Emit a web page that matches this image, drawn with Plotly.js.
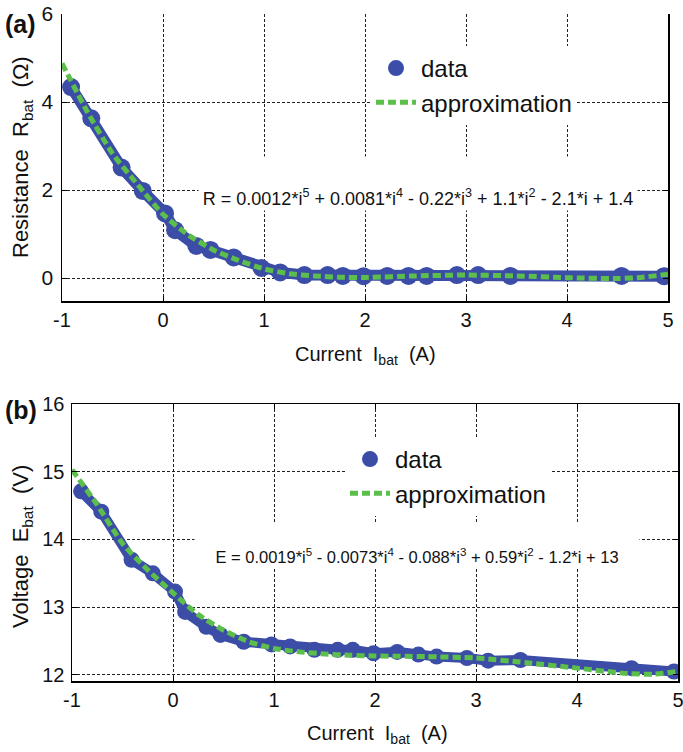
<!DOCTYPE html>
<html>
<head>
<meta charset="utf-8">
<script src="https://cdn.plot.ly/plotly-3.0.1.min.js"></script>
<style>html,body{margin:0;padding:0;background:#fff;}#chart{width:683px;height:752px;}</style>
</head>
<body>
<div id="chart"></div>
<script>
// ---- data ----
const current = [-0.91, -0.71, -0.41, -0.2, 0.02, 0.12, 0.33, 0.47, 0.70, 0.975, 1.16, 1.40, 1.63, 1.78, 1.985, 2.22, 2.43, 2.61, 2.91, 3.12, 3.44, 4.54, 4.96];
const resistance = [4.34, 3.63, 2.51, 1.98, 1.47, 1.09, 0.73, 0.64, 0.47, 0.23, 0.13, 0.07, 0.07, 0.05, 0.045, 0.05, 0.05, 0.05, 0.07, 0.07, 0.05, 0.05, 0.045];
const voltage = [14.71, 14.41, 13.70, 13.50, 13.23, 12.93, 12.71, 12.59, 12.49, 12.45, 12.42, 12.37, 12.37, 12.37, 12.32, 12.34, 12.30, 12.27, 12.25, 12.21, 12.22, 12.10, 12.05];

const approxCurrent = [-1, -0.75, -0.5, -0.25, 0, 0.25, 0.5, 0.75, 1, 1.25, 1.5, 1.75, 2, 2.5, 3, 3.5, 4, 4.5, 4.75, 5];
const approxR = [4.88, 3.78, 2.83, 2.12, 1.45, 0.98, 0.64, 0.40, 0.21, 0.10, 0.05, 0.02, 0.015, 0.05, 0.07, 0.05, 0.01, -0.01, 0.02, 0.09];
const approxE = [15.03, 14.51, 13.94, 13.55, 13.21, 12.89, 12.66, 12.49, 12.39, 12.34, 12.31, 12.29, 12.28, 12.27, 12.25, 12.18, 12.10, 12.02, 12.01, 12.05];

const xTicks = [-1, 0, 1, 2, 3, 4, 5];
const xTickText = ['-1', '0', '1', '2', '3', '4', '5'];
const rTicks = [0, 2, 4, 6];
const eTicks = [12, 13, 14, 15, 16];

const eqR = 'R = 0.0012*i<sup>5</sup> + 0.0081*i<sup>4</sup> - 0.22*i<sup>3</sup> + 1.1*i<sup>2</sup> - 2.1*i + 1.4';
const eqE = 'E = 0.0019*i<sup>5</sup> - 0.0073*i<sup>4</sup> - 0.088*i<sup>3</sup> + 0.59*i<sup>2</sup> - 1.2*i + 13';

// ---- styling ----
const W = 683, H = 752;
const BLUE = '#3B4DA6', GREEN = '#5CBF4B';
const px = v => v / W, py = v => 1 - v / H;

const traces = [
  {x: current, y: resistance, xaxis: 'x', yaxis: 'y', mode: 'lines', line: {color: BLUE, width: 11}, showlegend: false, hoverinfo: 'skip'},
  {x: current, y: resistance, xaxis: 'x', yaxis: 'y', mode: 'markers', name: 'data', marker: {color: BLUE, size: 18}, legend: 'legend'},
  {x: approxCurrent, y: approxR, xaxis: 'x', yaxis: 'y', mode: 'lines', name: 'approximation', line: {color: GREEN, width: 5, dash: '8px,4px', shape: 'spline', smoothing: 0.6}, legend: 'legend'},
  {x: current, y: voltage, xaxis: 'x2', yaxis: 'y2', mode: 'lines', line: {color: BLUE, width: 10}, showlegend: false, hoverinfo: 'skip'},
  {x: current, y: voltage, xaxis: 'x2', yaxis: 'y2', mode: 'markers', name: 'data', marker: {color: BLUE, size: 16}, legend: 'legend2'},
  {x: approxCurrent, y: approxE, xaxis: 'x2', yaxis: 'y2', mode: 'lines', name: 'approximation', line: {color: GREEN, width: 5, dash: '8px,4px', shape: 'spline', smoothing: 0.6}, legend: 'legend2'}
];

const tickFont = {family: 'Arial, Liberation Sans, sans-serif', size: 20, color: '#111'};
const grid = {showgrid: true, gridcolor: '#222', gridwidth: 1, griddash: '3px,2px', zeroline: false,
  showline: true, linecolor: '#000', linewidth: 1.5, ticks: 'inside', ticklen: 5, tickcolor: '#000', tickfont: tickFont,
  ticklabeloverflow: 'allow'};

const legendBase = {bgcolor: '#fff', borderwidth: 0, font: {family: 'Arial, sans-serif', size: 24, color: '#111'},
  xanchor: 'left', yanchor: 'top', itemwidth: 40, tracegroupgap: 0};

const layout = {
  width: W, height: H,
  margin: {l: 0, r: 0, t: 0, b: 0},
  paper_bgcolor: '#fff', plot_bgcolor: '#fff',
  font: {family: 'Arial, sans-serif', color: '#111'},
  xaxis: Object.assign({}, grid, {domain: [px(62), px(668)], range: [-1, 5], tickvals: xTicks, ticktext: xTickText, anchor: 'y', mirror: false, ticklabelstandoff: 0}),
  yaxis: Object.assign({}, grid, {domain: [py(301), py(14)], range: [-0.52, 6], tickvals: rTicks, anchor: 'x', mirror: 'ticks', ticklabelstandoff: 3, tickfont: Object.assign({}, tickFont, {size: 21})}),
  xaxis2: Object.assign({}, grid, {domain: [px(72), px(678)], range: [-1, 5], tickvals: xTicks, ticktext: xTickText, anchor: 'y2', mirror: 'ticks', ticklabelstandoff: 0}),
  yaxis2: Object.assign({}, grid, {domain: [py(681), py(404)], range: [11.91, 16], tickvals: eTicks, anchor: 'x2', mirror: 'ticks', ticklabelstandoff: 2}),
  legend: Object.assign({}, legendBase, {x: px(371), y: py(46)}),
  legend2: Object.assign({}, legendBase, {x: px(345), y: py(437)}),
  annotations: [
    {xref: 'paper', yref: 'paper', x: px(418), y: py(183.5), xanchor: 'center', yanchor: 'middle', text: eqR, showarrow: false,
     font: {size: 18, color: '#111'}, bgcolor: '#fff', width: 436, height: 51, valign: 'bottom', borderpad: 1},
    {xref: 'paper', yref: 'paper', x: px(417), y: py(545), xanchor: 'center', yanchor: 'middle', text: eqE, showarrow: false,
     font: {size: 16.5, color: '#111'}, bgcolor: '#fff', width: 442, height: 42, valign: 'bottom', borderpad: 1},
    {xref: 'paper', yref: 'paper', x: px(6), y: py(157), xanchor: 'left', yanchor: 'middle', textangle: -90,
     text: 'Resistance&nbsp; R<sub>bat</sub>&nbsp; (Ω)', showarrow: false, font: {size: 22, color: '#111'}},
    {xref: 'paper', yref: 'paper', x: px(6), y: py(547), xanchor: 'left', yanchor: 'middle', textangle: -90,
     text: 'Voltage&nbsp; E<sub>bat</sub>&nbsp; (V)', showarrow: false, font: {size: 22, color: '#111'}},
    {xref: 'paper', yref: 'paper', x: px(365), y: py(341), xanchor: 'center', yanchor: 'top',
     text: 'Current&nbsp; I<sub>bat</sub>&nbsp; (A)', showarrow: false, font: {size: 20, color: '#111'}},
    {xref: 'paper', yref: 'paper', x: px(377), y: py(720), xanchor: 'center', yanchor: 'top',
     text: 'Current&nbsp; I<sub>bat</sub>&nbsp; (A)', showarrow: false, font: {size: 20, color: '#111'}},
    {xref: 'paper', yref: 'paper', x: px(3), y: py(24), xanchor: 'left', yanchor: 'middle',
     text: '<b>(a)</b>', showarrow: false, font: {size: 25, color: '#111'}},
    {xref: 'paper', yref: 'paper', x: px(3), y: py(410), xanchor: 'left', yanchor: 'middle',
     text: '<b>(b)</b>', showarrow: false, font: {size: 25, color: '#111'}}
  ]
};

Plotly.newPlot('chart', traces, layout, {displayModeBar: false, staticPlot: true});
</script>
</body>
</html>
